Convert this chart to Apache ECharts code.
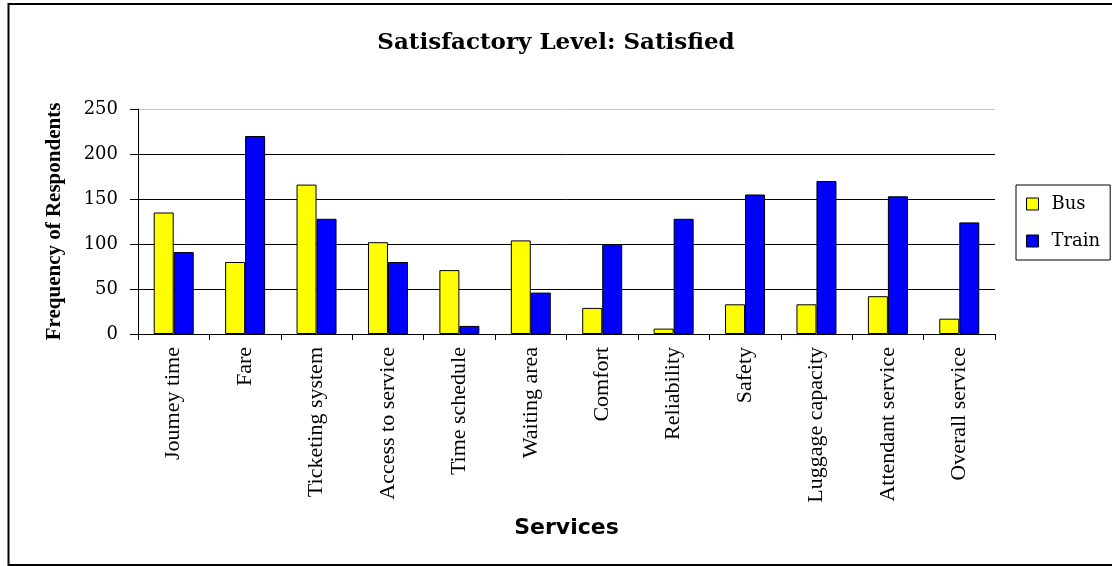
<!DOCTYPE html>
<html>
<head>
<meta charset="utf-8">
<script src="https://cdn.jsdelivr.net/npm/echarts@6/dist/echarts.min.js"></script>
<style>
html,body{margin:0;padding:0;background:#fff;}
#chart{width:1112px;height:566px;}
</style>
</head>
<body>
<div id="chart"></div>
<script>
var categories = ['Joumey time','Fare','Ticketing system','Access to service','Time schedule','Waiting area','Comfort','Reliability','Safety','Luggage capacity','Attendant service','Overall service'];
var busValues = [135, 80, 166, 102, 71, 104, 29, 6, 33, 33, 42, 17];
var trainValues = [91, 220, 128, 80, 9, 46, 100, 128, 155, 170, 153, 124];
var seriesNames = ['Bus', 'Train'];
var yMin = 0, yMax = 250, yStep = 50;

var chart = echarts.init(document.getElementById('chart'), null, {renderer: 'canvas'});
var option = {
  animation: false,
  backgroundColor: '#fff',
  title: {
    text: 'Satisfactory Level: Satisfied',
    left: 'center',
    top: 27,
    textStyle: {fontFamily: 'DejaVu Serif', fontWeight: 'bold', fontSize: 23, color: '#000'}
  },
  legend: {
    orient: 'vertical',
    left: 1016,
    top: 185,
    padding: [10, 10, 10, 10],
    itemGap: 19,
    itemWidth: 12,
    itemHeight: 12,
    icon: 'rect',
    selectedMode: false,
    borderColor: '#000',
    borderWidth: 1,
    itemStyle: {borderColor: '#000', borderWidth: 1},
    textStyle: {fontFamily: 'DejaVu Serif', fontSize: 18, color: '#000', padding: [0, 0, 0, 8]},
    data: seriesNames
  },
  grid: {left: 138, right: 117, top: 109, bottom: 232, containLabel: false},
  xAxis: {
    type: 'category',
    data: categories,
    name: 'Services',
    nameLocation: 'middle',
    nameGap: 183,
    nameTextStyle: {fontFamily: 'DejaVu Sans', fontWeight: 'bold', fontSize: 22, color: '#000'},
    axisLine: {lineStyle: {color: '#000', width: 1}},
    axisTick: {show: true, inside: false, length: 6, alignWithLabel: false, lineStyle: {color: '#000'}},
    axisLabel: {rotate: 90, margin: 13, interval: 0, fontFamily: 'Liberation Serif', fontSize: 22, color: '#000'},
    splitLine: {show: false}
  },
  yAxis: {
    type: 'value',
    min: yMin,
    max: yMax,
    interval: yStep,
    name: 'Frequency of Respondents',
    nameLocation: 'middle',
    nameRotate: 90,
    nameGap: 73,
    nameTextStyle: {fontFamily: 'Liberation Serif', fontWeight: 'bold', fontSize: 21, color: '#000'},
    axisLine: {show: true, lineStyle: {color: '#000', width: 1}},
    axisTick: {show: true, inside: false, length: 8, lineStyle: {color: '#000'}},
    axisLabel: {margin: 20, fontFamily: 'DejaVu Serif', fontSize: 18, color: '#000'},
    splitLine: {show: true, lineStyle: {color: ['#000', '#000', '#000', '#000', '#000', '#c8c8c8'], width: 1}}
  },
  series: [
    {
      name: seriesNames[0],
      type: 'bar',
      data: busValues,
      barWidth: 20,
      barGap: '0%',
      itemStyle: {color: '#ffff00', borderColor: '#000', borderWidth: 1}
    },
    {
      name: seriesNames[1],
      type: 'bar',
      data: trainValues,
      barWidth: 20,
      barGap: '0%',
      itemStyle: {color: '#0000ff', borderColor: '#000', borderWidth: 1}
    }
  ],
  graphic: [
    {
      type: 'rect',
      silent: true,
      z: 100,
      shape: {x: 8.5, y: 4, width: 1120, height: 561},
      style: {fill: 'none', stroke: '#000', lineWidth: 2}
    }
  ]
};
chart.setOption(option);
</script>
</body>
</html>
